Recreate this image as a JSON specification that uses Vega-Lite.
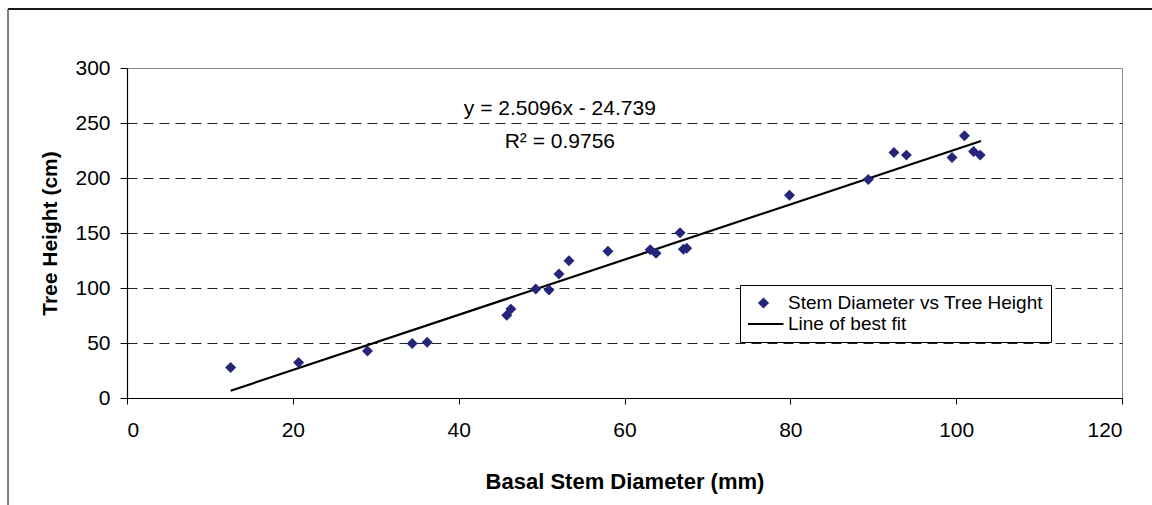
{
  "$schema": "https://vega.github.io/schema/vega-lite/v6.json",
  "width": 995,
  "height": 330,
  "autosize": {"type": "none"},
  "padding": {"left": 127, "top": 68, "right": 30, "bottom": 107},
  "background": "white",
  "config": {
    "font": "Liberation Sans",
    "view": {"stroke": "#8c8c8c", "strokeWidth": 1},
    "axis": {"labelFont": "Liberation Sans", "titleFont": "Liberation Sans", "labelColor": "black", "titleColor": "black"}
  },
  "datasets": {
    "points": [
      {"diameter": 12.5, "height": 27.7, "series": "Stem Diameter vs Tree Height"},
      {"diameter": 20.7, "height": 32.2, "series": "Stem Diameter vs Tree Height"},
      {"diameter": 29.0, "height": 42.8, "series": "Stem Diameter vs Tree Height"},
      {"diameter": 34.4, "height": 49.5, "series": "Stem Diameter vs Tree Height"},
      {"diameter": 36.2, "height": 50.7, "series": "Stem Diameter vs Tree Height"},
      {"diameter": 45.8, "height": 75.3, "series": "Stem Diameter vs Tree Height"},
      {"diameter": 46.3, "height": 80.8, "series": "Stem Diameter vs Tree Height"},
      {"diameter": 49.3, "height": 99.0, "series": "Stem Diameter vs Tree Height"},
      {"diameter": 50.9, "height": 98.1, "series": "Stem Diameter vs Tree Height"},
      {"diameter": 52.1, "height": 112.7, "series": "Stem Diameter vs Tree Height"},
      {"diameter": 53.3, "height": 124.8, "series": "Stem Diameter vs Tree Height"},
      {"diameter": 58.0, "height": 133.4, "series": "Stem Diameter vs Tree Height"},
      {"diameter": 63.1, "height": 134.8, "series": "Stem Diameter vs Tree Height"},
      {"diameter": 63.8, "height": 131.5, "series": "Stem Diameter vs Tree Height"},
      {"diameter": 66.7, "height": 150.3, "series": "Stem Diameter vs Tree Height"},
      {"diameter": 67.1, "height": 135.2, "series": "Stem Diameter vs Tree Height"},
      {"diameter": 67.5, "height": 136.1, "series": "Stem Diameter vs Tree Height"},
      {"diameter": 79.9, "height": 184.4, "series": "Stem Diameter vs Tree Height"},
      {"diameter": 89.4, "height": 198.6, "series": "Stem Diameter vs Tree Height"},
      {"diameter": 92.5, "height": 223.2, "series": "Stem Diameter vs Tree Height"},
      {"diameter": 94.0, "height": 220.8, "series": "Stem Diameter vs Tree Height"},
      {"diameter": 99.5, "height": 218.6, "series": "Stem Diameter vs Tree Height"},
      {"diameter": 101.0, "height": 238.4, "series": "Stem Diameter vs Tree Height"},
      {"diameter": 102.1, "height": 224.1, "series": "Stem Diameter vs Tree Height"},
      {"diameter": 102.9, "height": 220.8, "series": "Stem Diameter vs Tree Height"}
    ],
    "fit": [
      {"diameter": 12.5, "height": 6.6, "series": "Line of best fit"},
      {"diameter": 103.0, "height": 233.7, "series": "Line of best fit"}
    ],
    "one": [{}]
  },
  "layer": [
    {
      "data": {"name": "fit"},
      "mark": {"type": "line", "strokeWidth": 2.2},
      "encoding": {
        "x": {
          "field": "diameter", "type": "quantitative",
          "scale": {"domain": [0, 120], "nice": false, "zero": false},
          "axis": {
            "values": [0, 20, 40, 60, 80, 100, 120],
            "grid": false,
            "domainColor": "black", "domainWidth": 1.2,
            "tickColor": "black", "tickSize": 6, "tickWidth": 1,
            "labelFontSize": 21, "labelPadding": 15,
            "title": "Basal Stem Diameter (mm)",
            "titleFontSize": 22, "titleFontWeight": "bold",
            "titleBaseline": "alphabetic", "titleY": 90
          }
        },
        "y": {
          "field": "height", "type": "quantitative",
          "scale": {"domain": [0, 300], "nice": false},
          "axis": {
            "values": [0, 50, 100, 150, 200, 250, 300],
            "grid": true,
            "gridColor": {"condition": {"test": "datum.value === 300", "value": "transparent"}, "value": "#222222"},
            "gridDash": [10, 6], "gridWidth": 1,
            "domainColor": "black", "domainWidth": 1.2,
            "tickColor": "black", "tickSize": 7, "tickWidth": 1,
            "labelFontSize": 21, "labelPadding": 10,
            "title": "Tree Height (cm)",
            "titleFontSize": 21, "titleFontWeight": "bold",
            "titleBaseline": "alphabetic", "titleX": -71, "titleAngle": -90
          }
        },
        "color": {
          "field": "series", "type": "nominal",
          "scale": {"domain": ["Stem Diameter vs Tree Height", "Line of best fit"], "range": ["#25257a", "black"]},
          "legend": {
            "title": null,
            "orient": "none",
            "legendX": 613,
            "legendY": 217,
            "direction": "vertical",
            "strokeColor": "black",
            "fillColor": "white",
            "padding": 8,
            "rowPadding": 1,
            "clipHeight": 20,
            "symbolSize": 1600,
            "symbolOffset": 6,
            "symbolStrokeWidth": 2,
            "labelFont": "Liberation Sans",
            "labelFontSize": 19,
            "labelColor": "black",
            "labelOffset": 15,
            "labelLimit": 400,
            "encode": {
              "symbols": {
                "update": {
                  "shape": {"signal": "datum.value === 'Line of best fit' ? 'stroke' : 'diamond'"},
                  "size": {"signal": "datum.value === 'Line of best fit' ? 1600 : 70"},
                  "fill": {"signal": "datum.value === 'Line of best fit' ? 'transparent' : '#25257a'"},
                  "stroke": {"signal": "datum.value === 'Line of best fit' ? 'black' : 'transparent'"},
                  "strokeWidth": {"value": 2},
                  "opacity": {"value": 1}
                }
              }
            }
          }
        }
      }
    },
    {
      "data": {"name": "points"},
      "mark": {"type": "point", "shape": "diamond", "filled": true, "size": 120, "opacity": 1},
      "encoding": {
        "x": {"field": "diameter", "type": "quantitative"},
        "y": {"field": "height", "type": "quantitative"},
        "color": {"field": "series", "type": "nominal"}
      }
    },
    {
      "data": {"name": "one"},
      "mark": {"type": "text", "text": "y = 2.5096x - 24.739", "font": "Liberation Sans", "fontSize": 21, "color": "black", "align": "center", "baseline": "middle"},
      "encoding": {
        "x": {"datum": 52.2, "type": "quantitative"},
        "y": {"datum": 262.5, "type": "quantitative"}
      }
    },
    {
      "data": {"name": "one"},
      "mark": {"type": "text", "text": "R² = 0.9756", "font": "Liberation Sans", "fontSize": 21, "color": "black", "align": "center", "baseline": "middle"},
      "encoding": {
        "x": {"datum": 52.2, "type": "quantitative"},
        "y": {"datum": 233, "type": "quantitative"}
      }
    },
    {
      "data": {"name": "one"},
      "mark": {"type": "rule", "color": "#1a1a1a", "strokeWidth": 2, "clip": false},
      "encoding": {
        "x": {"datum": -14.35, "type": "quantitative"},
        "x2": {"datum": 124},
        "y": {"datum": 353.6, "type": "quantitative"}
      }
    },
    {
      "data": {"name": "one"},
      "mark": {"type": "rule", "color": "#555555", "strokeWidth": 1.5, "clip": false},
      "encoding": {
        "x": {"datum": -14.35, "type": "quantitative"},
        "y": {"datum": 353.6, "type": "quantitative"},
        "y2": {"datum": -98}
      }
    }
  ]
}
